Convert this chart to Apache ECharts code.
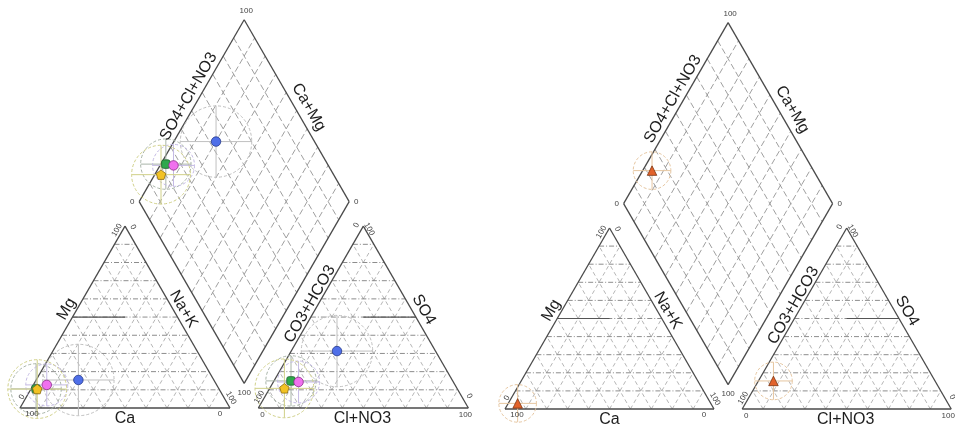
<!DOCTYPE html>
<html><head><meta charset="utf-8">
<script src="https://cdn.jsdelivr.net/npm/echarts@6/dist/echarts.min.js"></script>
<style>html,body{margin:0;padding:0;background:#fff}#c{width:955px;height:427px}</style>
</head><body><div id="c"></div>
<script>
// ---------- data (percent of meq) ----------
// left diagram samples
const samplesA = ['Sample 1', 'Sample 2', 'Sample 3', 'Sample 4'];
const mgA   = [15.4, 10.5, 12.7, 10.4];
const nakA  = [20.1, 2.4, 6.4, 3.0];
const so4A  = [31.3, 14.9, 14.3, 10.8];
const clA   = [21.8, 8.1, 12.0, 7.0];
const spreadA = [17, 12, 10, 14];
// right diagram sample
const samplesB = ['Sample 5'];
const mgB   = [3.1];
const nakB  = [4.5];
const so4B  = [15.5];
const clB   = [7.2];
const spreadB = [9];
// axis text
const gridSteps = [10, 20, 30, 40, 50, 60, 70, 80, 90];
const tickText = ['0', '100'];
const axisTitles = ['Ca', 'Mg', 'Na+K', 'Cl+NO3', 'CO3+HCO3', 'SO4', 'SO4+Cl+NO3', 'Ca+Mg'];

// ---------- styles ----------
const stylesA = [
  {symbol: 'circle', color: '#4f6fe8', border: '#24388a', ring: '#c0c0c0'},
  {symbol: 'roundRect', color: '#2fa84c', border: '#1d5e2a', ring: '#a8b4a8'},
  {symbol: 'circle', color: '#f070ee', border: '#8a2c88', ring: '#c4bae4'},
  {symbol: 'path://M0,-10 L9.5,-3.1 L5.9,8.1 L-5.9,8.1 L-9.5,-3.1 Z', color: '#f2c224', border: '#8a6a10', ring: '#d0d088'}
];
const stylesB = [
  {symbol: 'triangle', color: '#e2622a', border: '#7a3410', ring: '#e6c6a0'}
];

// ---------- piper geometry ----------
const G = 13.5, S = Math.sqrt(3) / 2, H = 100 * S;
const XMAX = 200 + G, YMAX = 2 * H + G * S;
const cat = (mg, nak) => [nak + mg / 2, mg * S];
const ani = (so4, cl) => [100 + G + cl + so4 / 2, so4 * S];
const L0 = 50 + G / 2, L1 = H + G * S;
const dia = (a, c) => [L0 + (a + c) / 2, L1 + S * (a - c)];
const seg = (p, q) => [p[0], p[1], q[0], q[1]];

function gridLines() {
  const outline = [], horiz = [], diag = [], diam = [], facies = [];
  outline.push(seg(cat(0, 0), cat(0, 100)), seg(cat(0, 100), cat(100, 0)), seg(cat(100, 0), cat(0, 0)));
  outline.push(seg(ani(0, 0), ani(0, 100)), seg(ani(0, 100), ani(100, 0)), seg(ani(100, 0), ani(0, 0)));
  outline.push(seg(dia(0, 0), dia(100, 0)), seg(dia(100, 0), dia(100, 100)), seg(dia(100, 100), dia(0, 100)), seg(dia(0, 100), dia(0, 0)));
  for (const k of gridSteps) {
    horiz.push(seg(cat(k, 0), cat(k, 100 - k)), seg(ani(k, 0), ani(k, 100 - k)));
    diag.push(seg(cat(0, k), cat(100 - k, k)), seg(cat(0, 100 - k), cat(100 - k, 0)));
    diag.push(seg(ani(0, k), ani(100 - k, k)), seg(ani(0, 100 - k), ani(100 - k, 0)));
    diam.push(seg(dia(k, 0), dia(k, 100)), seg(dia(0, k), dia(100, k)));
  }
  facies.push(seg(cat(50, 0), cat(50, 25)), seg(ani(50, 25), ani(50, 50)));
  return {outline, horiz, diag, diam, facies};
}

function textItems() {
  const T0 = tickText[0], T1 = tickText[1];
  const items = [];
  const add = (p, text, dx, dy, rot, size) => items.push({p, text, dx, dy, rot, size});
  // cation ticks
  add(cat(0, 0), T1, 12, 6, 0, 8); add(cat(0, 0), T0, 2, -11, 60, 8);
  add(cat(0, 100), T0, -10, 6, 0, 8); add(cat(0, 100), T1, 1, -10, -60, 8);
  add(cat(100, 0), T1, -8, 4, 60, 8); add(cat(100, 0), T0, 8, 1, -60, 8);
  // anion ticks
  add(ani(0, 0), T0, 4, 7, 0, 8); add(ani(0, 0), T1, 1, -11, 60, 8);
  add(ani(0, 100), T1, -3, 7, 0, 8); add(ani(0, 100), T0, 1, -12, -60, 8);
  add(ani(100, 0), T0, -7, -1, 60, 8); add(ani(100, 0), T1, 6, 3, -60, 8);
  // diamond ticks
  add(dia(100, 0), T1, 2, -9, 0, 8);
  add(dia(0, 0), T0, -7, 0, 0, 8);
  add(dia(100, 100), T0, 7, 0, 0, 8);
  add(dia(0, 100), T1, 0, 9, 0, 8);
  // axis titles
  add(cat(0, 50), axisTitles[0], 0, 11, 0, 16);
  add(cat(50, 0), axisTitles[1], -6, -8, 60, 16);
  add(cat(50, 50), axisTitles[2], 6, -8, -60, 16);
  add(ani(0, 50), axisTitles[3], -1, 11, 0, 16);
  add(ani(50, 0), axisTitles[4], -1, -13, 60, 16);
  add(ani(50, 50), axisTitles[5], 8, -7.5, -60, 16);
  add(dia(50, 0), axisTitles[6], -3, -14, 60, 16);
  add(dia(100, 50), axisTitles[7], 12, -3.5, -60, 16);
  return items;
}

function lineSeries(gi, data, stroke, width, dash) {
  return {
    type: 'custom', xAxisIndex: gi, yAxisIndex: gi, silent: true, z: 1,
    encode: {x: [0, 2], y: [1, 3]},
    data: data,
    renderItem: function (params, api) {
      const a = api.coord([api.value(0), api.value(1)]);
      const b = api.coord([api.value(2), api.value(3)]);
      return {type: 'line', shape: {x1: a[0], y1: a[1], x2: b[0], y2: b[1]},
        style: {stroke: stroke, lineWidth: width, lineDash: dash || null, fill: null}};
    }
  };
}

function buildDiagram(gi, names, mg, nak, so4, cl, spread, styles) {
  const series = [];
  const gl = gridLines();
  series.push(lineSeries(gi, gl.diag, '#a2a2a2', 0.8, [4, 3]));
  series.push(lineSeries(gi, gl.horiz, '#808080', 0.9, [5, 2, 1, 2]));
  series.push(lineSeries(gi, gl.diam, '#8e8e8e', 0.85, [6, 3]));
  series.push(lineSeries(gi, gl.facies, '#555555', 1.2, null));
  series.push(lineSeries(gi, gl.outline, '#4a4a4a', 1.3, null));
  // spread rings
  const rings = [];
  names.forEach((n, i) => {
    const a = so4[i] + cl[i];
    [cat(mg[i], nak[i]), ani(so4[i], cl[i]), dia(a, nak[i])].forEach(p => rings.push([p[0], p[1], spread[i], i]));
  });
  series.push({
    type: 'custom', xAxisIndex: gi, yAxisIndex: gi, silent: true, z: 2,
    encode: {x: 0, y: 1}, data: rings,
    renderItem: function (params, api) {
      const c = api.coord([api.value(0), api.value(1)]);
      const r = api.size([api.value(2), 0])[0];
      const col = styles[api.value(3)].ring;
      return {type: 'group', children: [
        {type: 'circle', shape: {cx: c[0], cy: c[1], r: r}, style: {fill: 'rgba(0,0,0,0)', stroke: col, lineWidth: 1, lineDash: [3, 2]}},
        {type: 'line', shape: {x1: c[0] - r, y1: c[1], x2: c[0] + r, y2: c[1]}, style: {stroke: col, lineWidth: 1}},
        {type: 'line', shape: {x1: c[0], y1: c[1] - r, x2: c[0], y2: c[1] + r}, style: {stroke: col, lineWidth: 1}}
      ]};
    }
  });
  // sample points
  names.forEach((n, i) => {
    const a = so4[i] + cl[i];
    series.push({
      type: 'scatter', name: n, xAxisIndex: gi, yAxisIndex: gi, z: 5 + i,
      symbol: styles[i].symbol, symbolSize: styles[i].symbol === 'roundRect' ? 8.5 : 9.5,
      itemStyle: {color: styles[i].color, borderColor: styles[i].border, borderWidth: 0.8, opacity: 1},
      data: [cat(mg[i], nak[i]), ani(so4[i], cl[i]), dia(a, nak[i])]
    });
  });
  // text
  const items = textItems();
  series.push({
    type: 'custom', xAxisIndex: gi, yAxisIndex: gi, silent: true, z: 20,
    encode: {x: 0, y: 1},
    data: items.map(t => [t.p[0], t.p[1]]),
    renderItem: function (params, api) {
      const t = items[params.dataIndex];
      const c = api.coord([api.value(0), api.value(1)]);
      return {type: 'text', x: c[0] + t.dx, y: c[1] + t.dy, rotation: t.rot * Math.PI / 180,
        style: {text: t.text, x: 0, y: 0, fill: t.size > 10 ? '#1e1e1e' : '#444',
          font: t.size + 'px "Liberation Sans", Arial, sans-serif',
          align: 'center', verticalAlign: 'middle', textAlign: 'center', textVerticalAlign: 'middle'}};
    }
  });
  return series;
}

const scaleA = 2.1, scaleB = 2.09;
const grids = [
  {left: 20, top: 408 - YMAX * scaleA, width: XMAX * scaleA, height: YMAX * scaleA},
  {left: 505, top: 409 - YMAX * scaleB, width: XMAX * scaleB, height: YMAX * scaleB}
];
const axisX = grids.map((g, i) => ({type: 'value', gridIndex: i, min: 0, max: XMAX, show: false}));
const axisY = grids.map((g, i) => ({type: 'value', gridIndex: i, min: 0, max: YMAX, show: false}));

const chart = echarts.init(document.getElementById('c'));
chart.setOption({
  animation: false,
  backgroundColor: '#ffffff',
  grid: grids,
  xAxis: axisX,
  yAxis: axisY,
  series: [].concat(
    buildDiagram(0, samplesA, mgA, nakA, so4A, clA, spreadA, stylesA),
    buildDiagram(1, samplesB, mgB, nakB, so4B, clB, spreadB, stylesB)
  )
});
</script>
</body></html>
